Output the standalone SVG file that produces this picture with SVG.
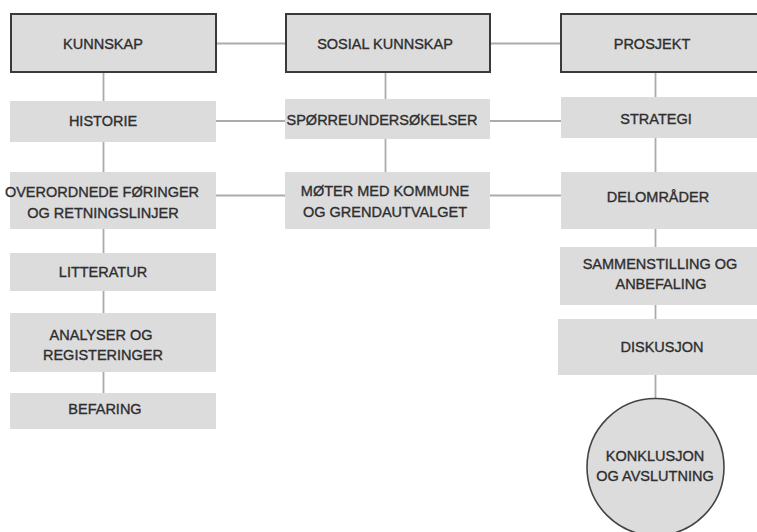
<svg xmlns="http://www.w3.org/2000/svg" width="757" height="532" viewBox="0 0 757 532">
<style>
.hdr{fill:#dcdcdd;stroke:#3a3a3a;stroke-width:2}
.box{fill:#dcdcdd}
.circ{fill:#dcdcdd;stroke:#444;stroke-width:1.6}
.lbl{font-family:"Liberation Sans",Arial,sans-serif;font-size:14.5px;fill:#2e2e2e;stroke:#2e2e2e;stroke-width:0.35;text-anchor:middle}
.con{stroke:#ababab;stroke-width:1.8;fill:none}
</style>
<rect width="757" height="532" fill="#fff"/>
<g id="connectors">
<line class="con" x1="216" y1="43.5" x2="286" y2="43.5"/>
<line class="con" x1="490" y1="43.5" x2="561" y2="43.5"/>
<line class="con" x1="216" y1="121" x2="285" y2="121"/>
<line class="con" x1="490" y1="121" x2="561" y2="121"/>
<line class="con" x1="216" y1="195.5" x2="285" y2="195.5"/>
<line class="con" x1="490" y1="195.5" x2="561" y2="195.5"/>
<line class="con" x1="103.5" y1="72" x2="103.5" y2="101"/>
<line class="con" x1="103.5" y1="142" x2="103.5" y2="172"/>
<line class="con" x1="103.5" y1="229" x2="103.5" y2="253"/>
<line class="con" x1="103.5" y1="291" x2="103.5" y2="313"/>
<line class="con" x1="103.5" y1="372" x2="103.5" y2="393"/>
<line class="con" x1="385.5" y1="72" x2="385.5" y2="99"/>
<line class="con" x1="385.5" y1="139" x2="385.5" y2="172"/>
<line class="con" x1="655.5" y1="72" x2="655.5" y2="97"/>
<line class="con" x1="655.5" y1="138" x2="655.5" y2="172"/>
<line class="con" x1="655.5" y1="229" x2="655.5" y2="247"/>
<line class="con" x1="655.5" y1="305" x2="655.5" y2="319"/>
<line class="con" x1="655.5" y1="375" x2="655.5" y2="399"/>
</g>
<g id="kunnskap"><rect class="hdr" x="11" y="14" width="205" height="58"/><text class="lbl" x="103" y="48.5">KUNNSKAP</text></g>
<g id="sosial-kunnskap"><rect class="hdr" x="286" y="14" width="204" height="58"/><text class="lbl" x="385" y="48.5">SOSIAL KUNNSKAP</text></g>
<g id="prosjekt"><rect class="hdr" x="561" y="14" width="250" height="58"/><text class="lbl" x="652" y="48.5">PROSJEKT</text></g>
<g id="historie"><rect class="box" x="10" y="101" width="206" height="41"/><text class="lbl" x="103" y="126">HISTORIE</text></g>
<g id="sporreundersokelser"><rect class="box" x="285" y="99" width="205" height="40"/><text class="lbl" x="382" y="125">SPØRREUNDERSØKELSER</text></g>
<g id="strategi"><rect class="box" x="561" y="97" width="200" height="41"/><text class="lbl" x="656" y="124">STRATEGI</text></g>
<g id="overordnede"><rect class="box" x="10" y="172" width="206" height="57"/><text class="lbl" x="102" y="197">OVERORDNEDE FØRINGER</text><text class="lbl" x="103" y="218">OG RETNINGSLINJER</text></g>
<g id="moter"><rect class="box" x="285" y="172" width="205" height="57"/><text class="lbl" x="385" y="196">MØTER MED KOMMUNE</text><text class="lbl" x="385" y="217">OG GRENDAUTVALGET</text></g>
<g id="delomrader"><rect class="box" x="561" y="172" width="200" height="57"/><text class="lbl" x="658" y="202">DELOMRÅDER</text></g>
<g id="litteratur"><rect class="box" x="10" y="253" width="206" height="38"/><text class="lbl" x="103" y="277">LITTERATUR</text></g>
<g id="analyser"><rect class="box" x="10" y="313" width="206" height="59"/><text class="lbl" x="101" y="340">ANALYSER OG</text><text class="lbl" x="103" y="360">REGISTERINGER</text></g>
<g id="befaring"><rect class="box" x="10" y="393" width="206" height="36"/><text class="lbl" x="105" y="414">BEFARING</text></g>
<g id="sammenstilling"><rect class="box" x="560" y="247" width="200" height="58"/><text class="lbl" x="660" y="269">SAMMENSTILLING OG</text><text class="lbl" x="661" y="289">ANBEFALING</text></g>
<g id="diskusjon"><rect class="box" x="558" y="319" width="202" height="56"/><text class="lbl" x="662" y="352">DISKUSJON</text></g>
<g id="konklusjon"><circle class="circ" cx="655.5" cy="467" r="68.5"/><text class="lbl" x="655" y="461">KONKLUSJON</text><text class="lbl" x="655" y="481">OG AVSLUTNING</text></g>
</svg>
